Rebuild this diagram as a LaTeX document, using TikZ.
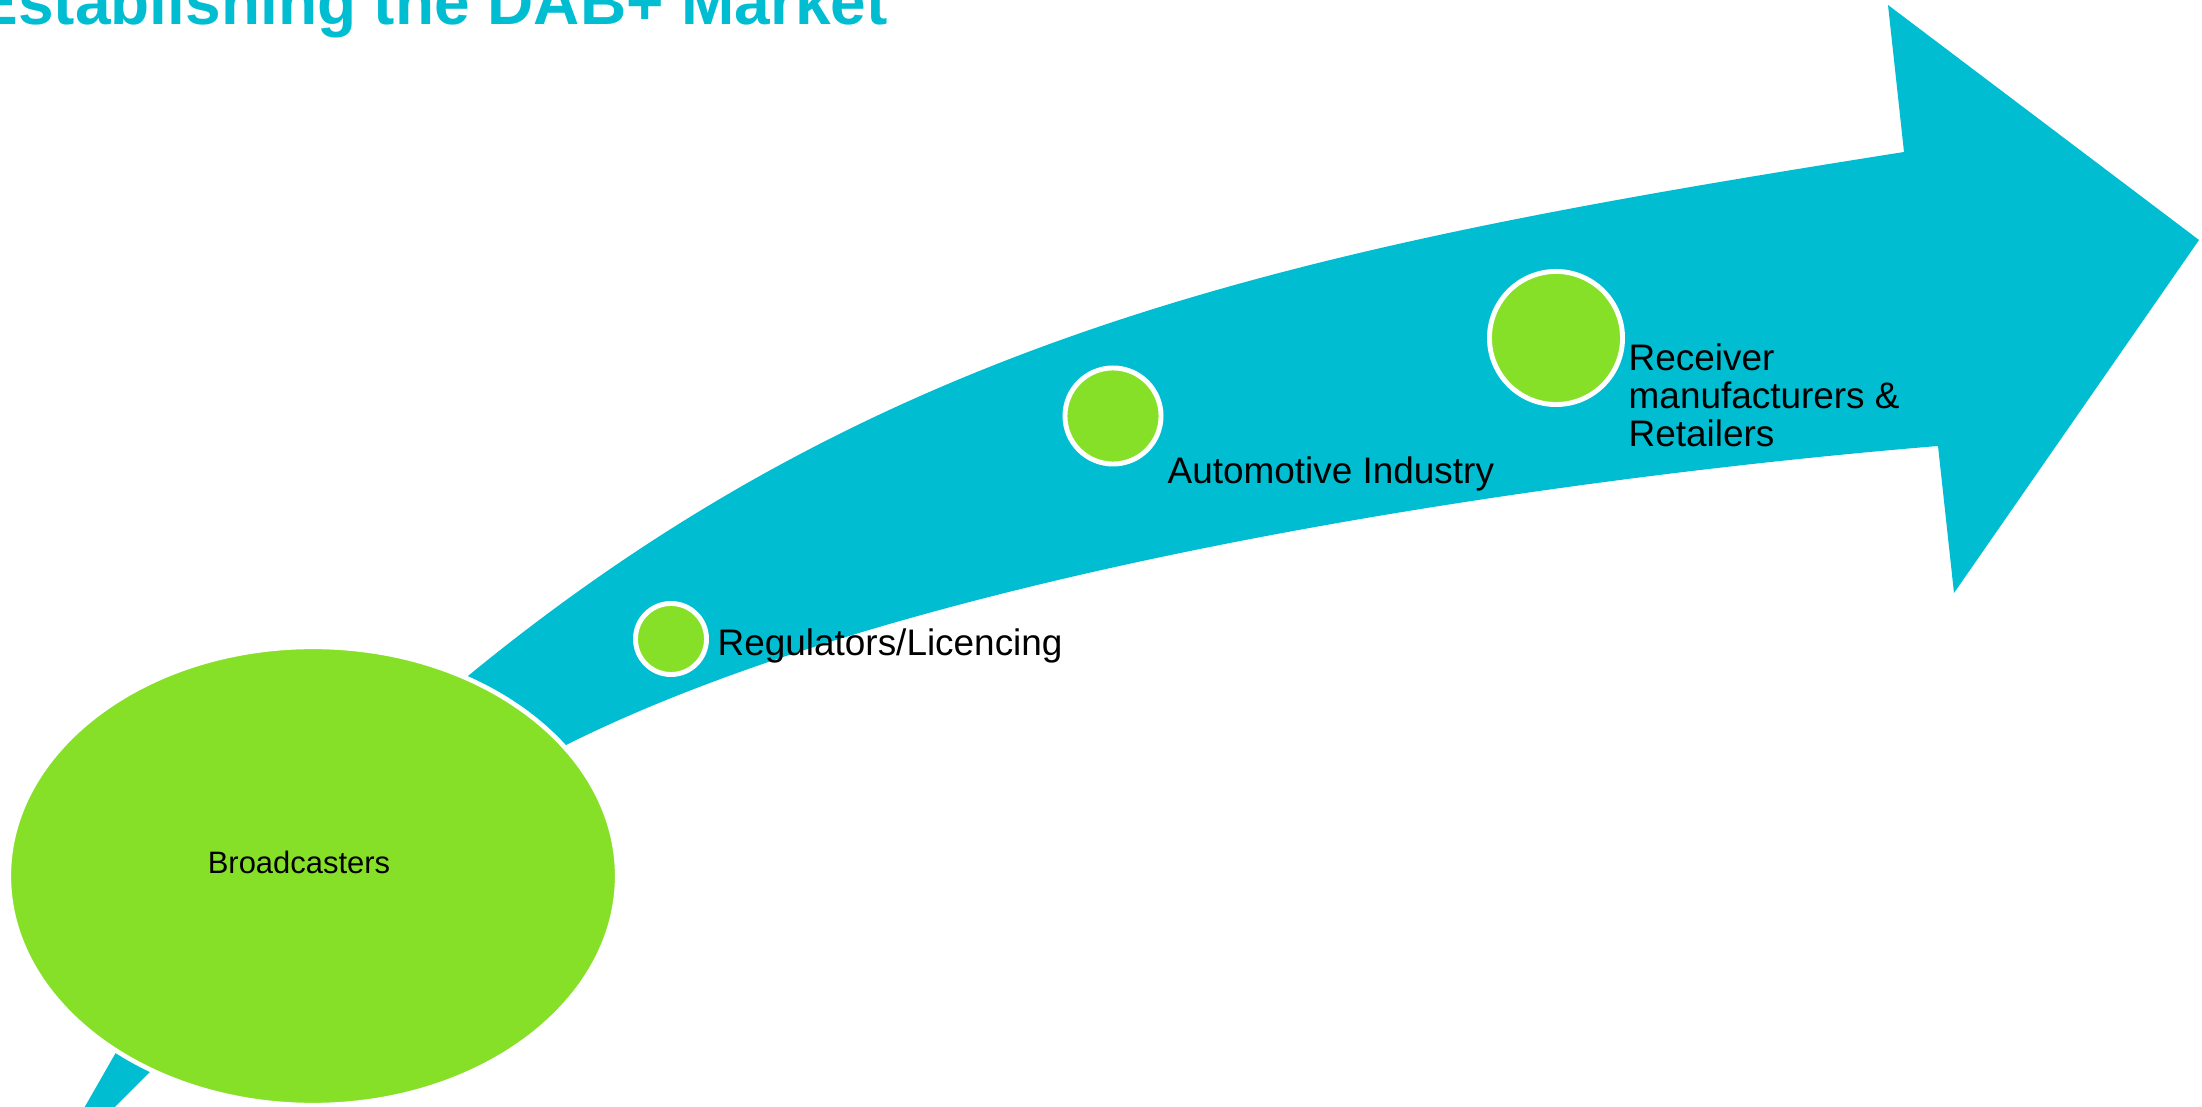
\documentclass[tikz,border=0pt]{standalone}
\usepackage{fontspec}
\setmainfont{Liberation Sans}
\usepackage{tikz}
\usetikzlibrary{shapes.geometric}

\definecolor{dabcyan}{RGB}{0,189,210}
\definecolor{dabgreen}{RGB}{135,224,40}

\tikzset{
  band/.style={fill=dabcyan,draw=none},
  hub/.style={ellipse,fill=dabgreen,draw=white,line width=1.3pt,inner sep=0pt,
    minimum width=6.08cm,minimum height=4.58cm},
  stake/.style={circle,fill=dabgreen,draw=white,line width=1.4pt,inner sep=0pt},
  stakelabel/.style={anchor=base west,inner sep=0pt,font=\fontsize{10.5}{10.8}\selectfont},
}

\begin{document}
\begin{tikzpicture}[x=0.01cm,y=-0.01cm]
\useasboundingbox (0,0) rectangle (2202,1107);
\clip (0,0) rectangle (2202,1107);

\node[anchor=base west,inner sep=0pt,text=dabcyan,
  font=\bfseries\fontsize{18.2}{20}\selectfont] (title) at (-25,25) {Establishing the DAB+ Market};

% the big curved arrow
\fill[band] (424,713) .. controls (863,334) and (1291,249) .. (1904,152)
  -- (1888,5) -- (2199,240) -- (1954,593) -- (1938,446)
  .. controls (1490,483) and (785,591) .. (470,800) -- cycle;
% piece of a second arrow below
\fill[band] (146,1000) -- (222,1000) -- (105,1117) -- (79,1117) -- cycle;

\node[hub] (broad) at (313,876) {};
\node[font=\fontsize{8.8}{10}\selectfont] (broadlabel) at ([xshift=-0.14cm,yshift=0.14cm]broad.center) {Broadcasters};

\node[stake,minimum size=0.71cm] (reg) at (671,639) {};
\node[stakelabel] (reglabel) at (717,656) {Regulators/Licencing};

\node[stake,minimum size=0.96cm] (auto) at (1113,416) {};
\node[stakelabel] (autolabel) at (1167,484) {Automotive Industry};

\node[stake,minimum size=1.33cm] (recv) at (1556,338) {};
\node[stakelabel,anchor=north west,align=left] (recvlabel) at (1628,343)
  {Receiver\\manufacturers \&\\Retailers};
\end{tikzpicture}
\end{document}
